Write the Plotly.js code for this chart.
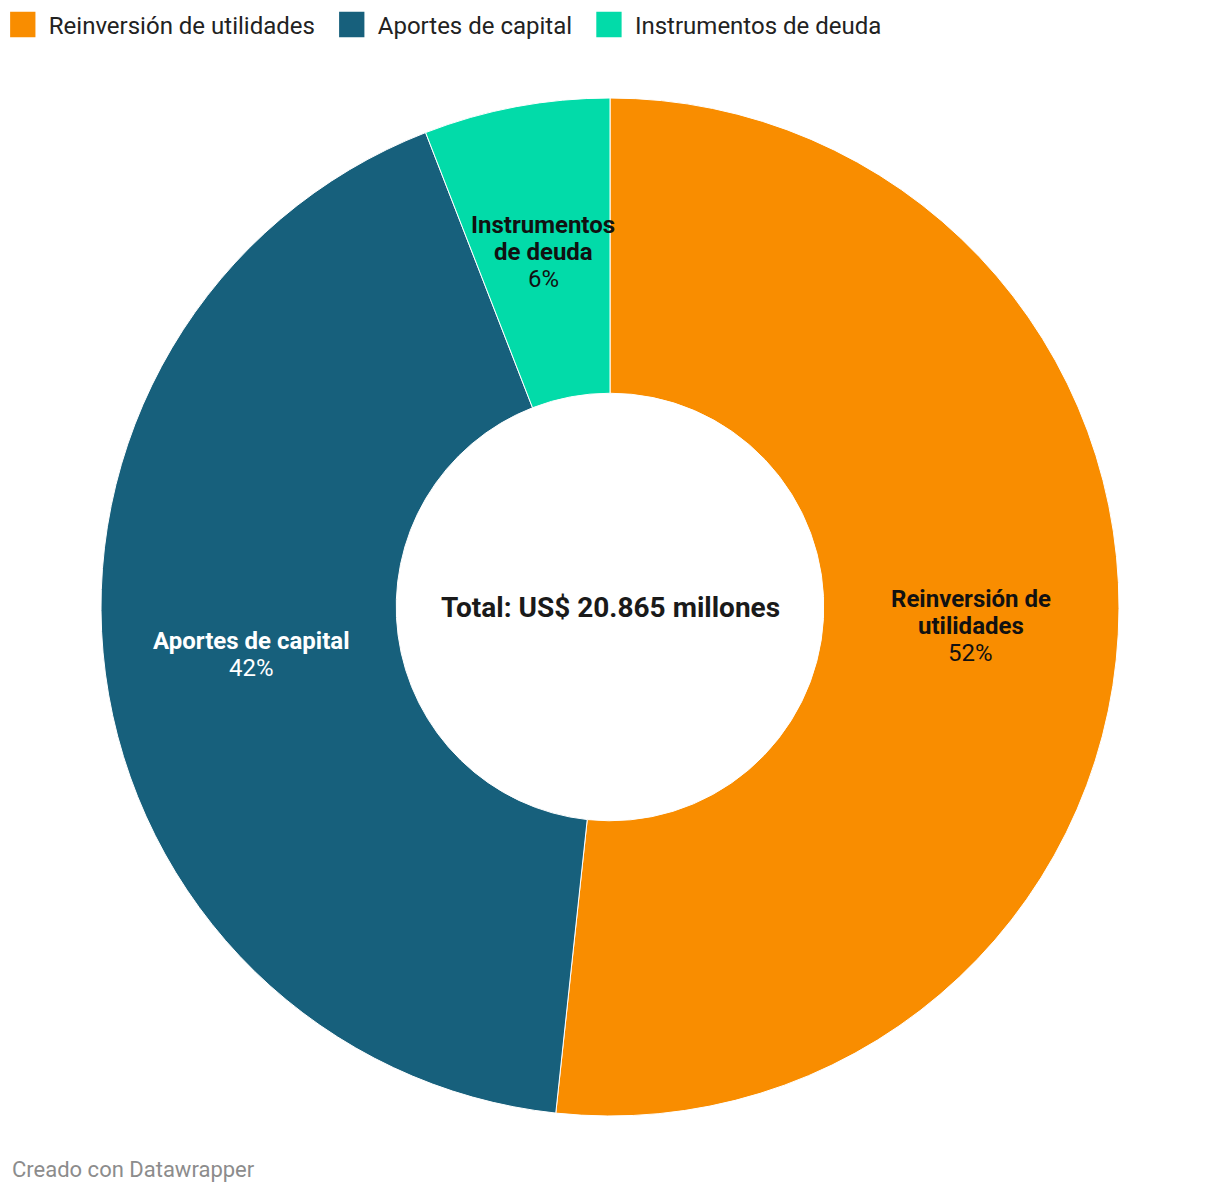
<!DOCTYPE html>
<html>
<head>
<meta charset="utf-8">
<script src="https://cdn.plot.ly/plotly-3.0.1.min.js"></script>
<style>
  html, body { margin: 0; padding: 0; background: #ffffff; }
  #chart { width: 1220px; height: 1194px; }
</style>
</head>
<body>
<div id="chart"></div>
<script>
// Composición de la inversión (US$ millones)
const categories = ['Reinversión de utilidades', 'Aportes de capital', 'Instrumentos de deuda'];
const labelLines = [['Reinversión de', 'utilidades'], ['Aportes de capital'], ['Instrumentos', 'de deuda']];
const values = [10787, 8847, 1231];
const colors = ['#f98d00', '#17607c', '#02dba9'];
const textColors = ['#111111', '#ffffff', '#111111'];
const totalText = 'Total: US$ 20.865 millones';
const creditText = 'Creado con Datawrapper';

const hole = 0.42;
const lineStep = 27;

function sliceLabelAnnotations() {
  const total = values.reduce((a, b) => a + b, 0);
  const rMid = (1 + hole) / 4; // middle of the ring, in paper units
  const notes = [];
  let cum = 0;

  values.forEach((v, i) => {
    const angle = 2 * Math.PI * (cum + v / 2) / total;
    cum += v;
    const x = 0.5 + rMid * Math.sin(angle);
    const y = 0.5 + rMid * Math.cos(angle);
    const lines = labelLines[i].map((t) => `<b>${t}</b>`);
    lines.push(`${Math.round(v / total * 100)}%`);
    const n = lines.length;

    lines.forEach((line, k) => {
      notes.push({
        text: line,
        xref: 'paper', yref: 'paper', x: x, y: y,
        xanchor: 'center', yanchor: 'middle',
        yshift: ((n - 1) / 2 - k) * lineStep,
        showarrow: false,
        font: { size: 24, color: textColors[i] }
      });
    });
  });

  return notes;
}

// a little extra room between legend entries
const legendNames = categories.map((c, i) => (i < categories.length - 1 ? c + '\u00a0\u00a0\u00a0' : c));

const data = [{
  type: 'pie',
  labels: legendNames,
  values: values,
  hole: hole,
  sort: false,
  direction: 'clockwise',
  rotation: 0,
  textinfo: 'none',
  marker: { colors: colors, line: { color: '#ffffff', width: 1 } },
  hoverinfo: 'label+value+percent'
}];

const layout = {
  width: 1220,
  height: 1194,
  margin: { l: 101, r: 101, t: 98, b: 78 },
  paper_bgcolor: '#ffffff',
  font: { family: 'Roboto, sans-serif', color: '#222222' },
  showlegend: true,
  legend: {
    orientation: 'h',
    xref: 'container',
    yref: 'container',
    x: 0.0072,
    y: 0.998,
    xanchor: 'left',
    yanchor: 'top',
    font: { size: 24, color: '#222222' }
  },
  annotations: [
    {
      text: '<b>' + totalText + '</b>',
      xref: 'paper', yref: 'paper', x: 0.5, y: 0.5,
      xanchor: 'center', yanchor: 'middle',
      showarrow: false,
      font: { size: 28, color: '#1a1a1a' }
    },
    {
      text: creditText,
      xref: 'paper', yref: 'paper', x: -0.0894, y: -0.053,
      xanchor: 'left', yanchor: 'middle',
      showarrow: false,
      font: { size: 22, color: '#8c8c8c' }
    }
  ].concat(sliceLabelAnnotations())
};

Plotly.newPlot('chart', data, layout, { displayModeBar: false }).then((gd) => {
  // Datawrapper-style larger legend swatches
  gd.querySelectorAll('.legend .legendpoints path').forEach((p) => {
    p.setAttribute('transform', 'translate(14,0) scale(2.3)');
  });
});
</script>
</body>
</html>
